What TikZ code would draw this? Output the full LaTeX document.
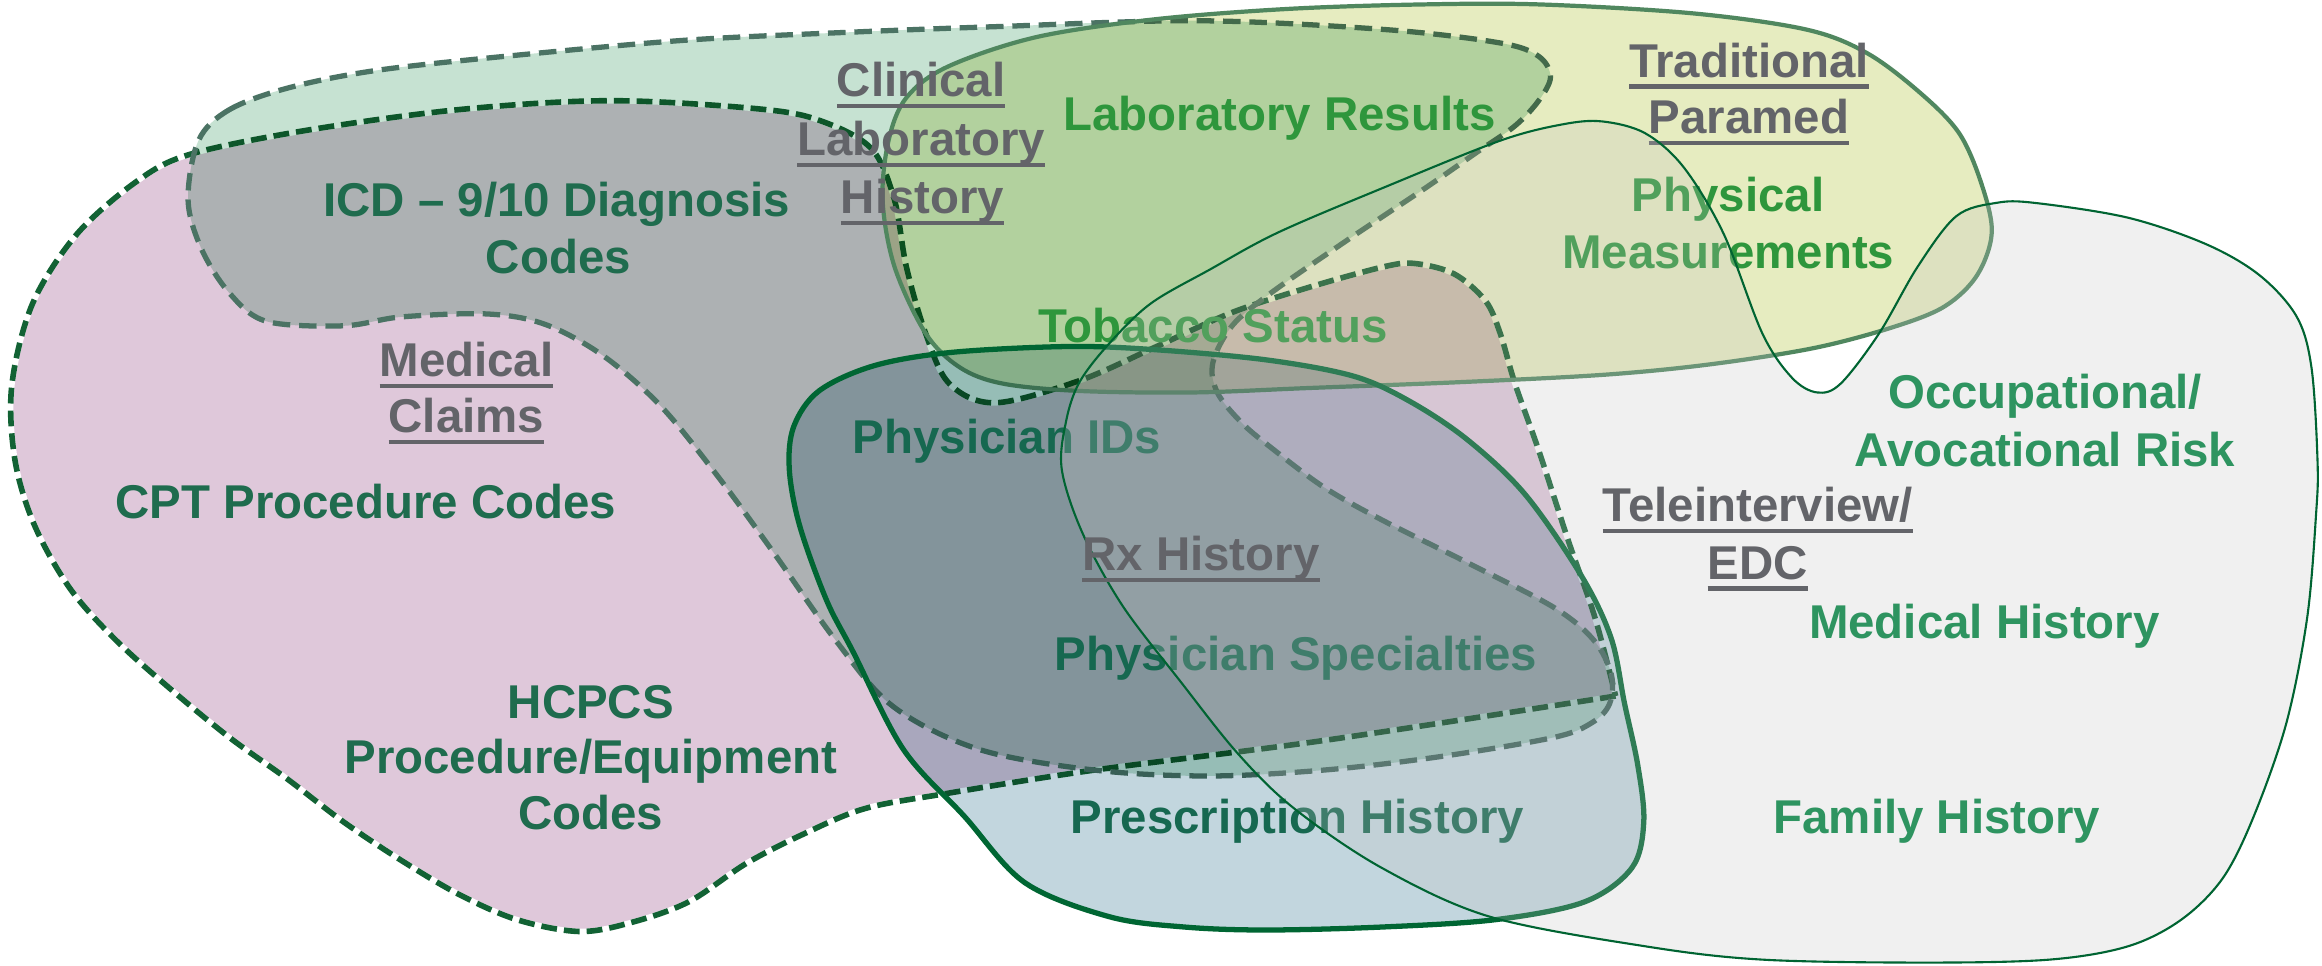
\documentclass[tikz,border=0pt]{standalone}
\usepackage{fontspec}
\setmainfont{Liberation Sans}
\definecolor{afill}{RGB}{223,200,218}
\definecolor{bfill}{RGB}{198,226,210}
\definecolor{cfill}{RGB}{230,236,192}
\definecolor{dfill}{RGB}{194,194,194}
\definecolor{efill}{RGB}{194,214,222}
\definecolor{aline}{RGB}{18,98,52}
\definecolor{bline}{RGB}{75,115,100}
\definecolor{cline}{RGB}{80,135,95}
\definecolor{eline}{RGB}{0,102,51}
\definecolor{dline}{RGB}{0,100,50}
\definecolor{titlegray}{RGB}{99,100,105}
\definecolor{atext}{RGB}{31,108,78}
\definecolor{ctext}{RGB}{46,150,60}
\definecolor{etext}{RGB}{22,104,80}
\definecolor{dtext}{RGB}{46,148,96}
\newcommand\ulbox[1]{\setbox0\hbox{#1}\rlap{\copy0}\rule[-3.4pt]{\wd0}{1.3pt}}
\tikzset{
  lbl/.style={inner sep=0pt, anchor=base, font=\fontsize{13.5}{16}\selectfont\bfseries},
  ttl/.style={lbl, text=titlegray},
  txtA/.style={lbl, text=atext},
  txtC/.style={lbl, text=ctext},
  txtE/.style={lbl, text=etext},
  txtD/.style={lbl, text=dtext},
}
\begin{document}
\begin{tikzpicture}[x=0.01481cm, y=-0.01481cm]
\fill[white] (0,0) rectangle (1568,652);

% Medical Claims region
\def\pathA{plot[smooth, tension=0.55] coordinates {(1091,470) (894,500) (739,520) (638,536) (584,546) (543,563) (504,583) (465,609) (426,623) (391,629) (349,621) (310,604) (271,581) (232,555) (194,526) (155,498) (116,466) (78,432) (47,397) (23,354) (10,310) (8,260) (22,205) (52,158) (93,122) (129,104) (207,88) (310,74) (413,68) (517,74) (558,83) (589,101) (604,135) (612,180) (625,225) (641,259) (672,272) (729,257) (781,234) (832,211) (884,194) (935,180) (956,178) (982,185) (1003,203) (1013,225) (1023,259) (1039,304) (1059,365) (1077,417) (1091,470)} -- cycle}
\fill[afill] \pathA;
\draw[white, line width=1.6pt] \pathA;
\draw[aline, line width=1.6pt, dash pattern=on 4.5pt off 2pt] \pathA;

% Clinical Laboratory History region
\def\pathB{plot[smooth cycle, tension=0.55] coordinates {(134,95) (155,74) (196,59) (258,47) (362,36) (465,27) (568,22) (672,18) (810,14) (936,20) (1013,29) (1039,38) (1047,52) (1039,68) (1023,85) (997,103) (961,128) (910,162) (858,198) (832,220) (819,245) (822,265) (838,285) (858,302) (894,329) (933,351) (991,380) (1049,410) (1076,432) (1088,455) (1087,475) (1075,488) (1049,498) (972,511) (894,520) (816,524) (739,520) (661,506) (603,477) (564,432) (523,374) (485,322) (446,274) (407,240) (368,219) (329,212) (271,214) (232,220) (180,217) (155,198) (136,168) (127,135)}}
\begin{scope}[blend mode=multiply]
\fill[bfill] \pathB;
\end{scope}
\begin{scope}[blend group=multiply]
\draw[bline, line width=0.3pt, double=white, double distance=0.9pt, dash pattern=on 5pt off 2.5pt] \pathB;
\end{scope}

% Traditional Paramed region
\def\pathC{plot[smooth cycle, tension=0.55] coordinates {(600,95) (612,66) (640,45) (700,25) (780,13) (870,6) (960,3) (1040,3) (1143,9) (1220,20) (1261,36) (1297,63) (1323,90) (1338,124) (1345,157) (1335,186) (1313,207) (1278,221) (1225,235) (1155,246) (1084,253) (987,258) (884,262) (806,265) (729,264) (677,259) (648,248) (625,225) (604,180) (596,135)}}
\begin{scope}[blend mode=multiply]
\fill[cfill] \pathC;
\end{scope}
\begin{scope}[blend group=multiply]
\draw[cline, line width=0.3pt, double=white, double distance=0.6pt] \pathC;
\end{scope}

% Rx History region
\def\pathE{plot[smooth cycle, tension=0.55] coordinates {(533,317) (536,288) (553,264) (590,247) (642,238) (720,234) (778,236) (855,243) (914,254) (952,271) (991,297) (1030,334) (1068,389) (1088,431) (1097,475) (1106,517) (1110,555) (1102,586) (1070,609) (1010,621) (933,626) (855,628) (800,626) (749,619) (692,596) (651,551) (610,506) (576,440) (558,405) (540,355)}}
\begin{scope}[blend mode=multiply]
\fill[efill] \pathE;
\end{scope}
\draw[eline, line width=1.5pt] \pathE;

% Labels of the lower layers
\node[ttl] (mcA) at (315,254) {\ulbox{Medical}};
\node[ttl] (mcB) at (315,292) {\ulbox{Claims}};
\node[txtA] (icdA) at (376,146) {ICD – 9/10 Diagnosis};
\node[txtA] (icdB) at (377,185) {Codes};
\node[txtA] (cpt) at (247,350) {CPT Procedure Codes};
\node[txtA] (hcA) at (399,485) {HCPCS};
\node[txtA] (hcB) at (399,522) {Procedure/Equipment};
\node[txtA] (hcC) at (399,560) {Codes};

\node[ttl] (clA) at (622,65) {\ulbox{Clinical}};
\node[ttl] (clB) at (622,105) {\ulbox{Laboratory}};
\node[ttl] (clC) at (623,144) {\ulbox{History}};
\node[txtC] (lab) at (864,88) {Laboratory Results};

\node[ttl] (tpA) at (1181,52) {\ulbox{Traditional}};
\node[ttl] (tpB) at (1181,90) {\ulbox{Paramed}};
\node[txtC] (phA) at (1167,143) {Physical};
\node[txtC] (phB) at (1167,181) {Measurements};
\node[txtC] (tob) at (819,231) {Tobacco Status};

\node[txtE] (pid) at (680,306) {Physician IDs};
\node[txtE] (psp) at (875,453) {Physician Specialties};
\node[txtE] (prx) at (876,563) {Prescription History};

% Teleinterview / EDC region, on top
\def\pathD{plot[smooth cycle, tension=0.55] coordinates {(717,317) (720,284) (729,258) (749,232) (777,205) (817,182) (863,157) (936,126) (1013,95) (1055,84) (1082,82) (1111,90) (1137,113) (1164,158) (1190,225) (1210,255) (1227,265) (1243,259) (1269,225) (1295,180) (1321,146) (1348,137) (1374,137) (1437,147) (1490,165) (1526,186) (1551,214) (1561,249) (1565,312) (1564,347) (1558,417) (1544,488) (1522,551) (1501,593) (1473,621) (1437,639) (1384,648) (1300,650) (1190,648) (1111,639) (1006,619) (933,586) (874,546) (836,509) (797,460) (758,409) (731,360)}}
\fill[dfill, fill opacity=0.245] \pathD;
\draw[dline, line width=0.6pt] \pathD;

\node[ttl] (rx) at (811,385) {\ulbox{Rx History}};
\node[txtD] (ocA) at (1381,276) {Occupational/};
\node[txtD] (ocB) at (1381,315) {Avocational Risk};
\node[ttl] (tiA) at (1187,352) {\ulbox{Teleinterview/}};
\node[ttl] (tiB) at (1187,391) {\ulbox{EDC}};
\node[txtD] (mh) at (1340,431) {Medical History};
\node[txtD] (fh) at (1308,563) {Family History};
\end{tikzpicture}
\end{document}
